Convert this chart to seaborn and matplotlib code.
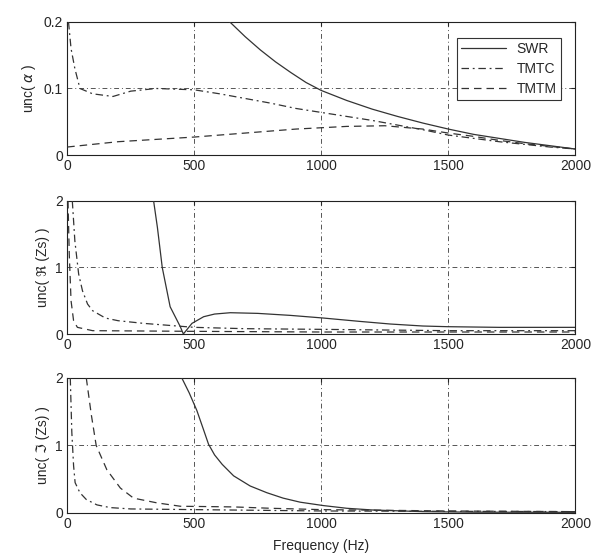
import numpy as np
import pandas as pd
import seaborn as sns
import matplotlib.pyplot as plt

sns.set_style('white')
plt.rcParams['font.family'] = ['Liberation Sans', 'DejaVu Sans']
plt.rcParams['font.size'] = 10
plt.rcParams['mathtext.fontset'] = 'dejavusans'

# ---- data ----
x_ticks = [0, 500, 1000, 1500, 2000]

# panel 1 : unc(alpha)
f_a_swr = [640, 700, 760, 820, 880, 940, 1000, 1100, 1200, 1300, 1400, 1500, 1600, 1700,
           1800, 1900, 2000]
u_a_swr = [0.200, 0.178, 0.158, 0.140, 0.124, 0.109, 0.097, 0.082, 0.069, 0.058, 0.048,
           0.039, 0.031, 0.025, 0.019, 0.014, 0.009]
f_a_tmtc = [5, 15, 30, 50, 100, 180, 250, 350, 500, 600, 700, 800, 900, 1000, 1100,
            1200, 1300, 1400, 1500, 1600, 1700, 1800, 1900, 2000]
u_a_tmtc = [0.2, 0.16, 0.13, 0.10, 0.092, 0.088, 0.096, 0.10, 0.098, 0.092, 0.085, 0.078,
            0.070, 0.064, 0.058, 0.052, 0.045, 0.038, 0.030, 0.025, 0.020, 0.016, 0.012, 0.009]
f_a_tmtm = [0, 200, 500, 700, 900, 1100, 1250, 1400, 1500, 1600, 1700, 1800, 1900, 2000]
u_a_tmtm = [0.012, 0.020, 0.027, 0.033, 0.039, 0.043, 0.044, 0.039, 0.033, 0.028, 0.022, 0.017, 0.013, 0.009]
a_ticks = [0, 0.1, 0.2]
a_ticklabels = ['0', '0.1', '0.2']

# panel 2 : unc(Re(Zs))
f_r_swr = [340, 355, 374, 405, 445, 457, 491, 537, 580, 642, 750, 878, 1008, 1150, 1272,
           1400, 1496, 1700, 2000]
u_r_swr = [2.0, 1.6, 1.0, 0.41, 0.11, 0.0, 0.16, 0.26, 0.30, 0.32, 0.31, 0.28, 0.24, 0.19,
           0.15, 0.12, 0.11, 0.10, 0.10]
f_r_tmtc = [20, 30, 45, 60, 80, 100, 150, 200, 300, 400, 500, 700, 1000, 1500, 2000]
u_r_tmtc = [2.0, 1.4, 0.9, 0.65, 0.45, 0.35, 0.24, 0.20, 0.16, 0.13, 0.10, 0.08, 0.07, 0.05, 0.05]
f_r_tmtm = [3, 8, 15, 25, 40, 100, 500, 1000, 2000]
u_r_tmtm = [2.0, 1.2, 0.5, 0.2, 0.1, 0.05, 0.04, 0.03, 0.03]
r_ticks = [0, 1, 2]

# panel 3 : unc(Im(Zs))
f_i_swr = [451, 480, 510, 535, 556, 580, 610, 655, 720, 786, 850, 917, 1008, 1100, 1200,
           1400, 1600, 2000]
u_i_swr = [2.0, 1.78, 1.52, 1.25, 1.02, 0.86, 0.72, 0.55, 0.40, 0.30, 0.22, 0.16, 0.11,
           0.07, 0.045, 0.02, 0.012, 0.01]
f_i_tmtc = [12, 18, 25, 31, 50, 75, 117, 169, 250, 500, 1000, 2000]
u_i_tmtc = [2.0, 1.2, 0.7, 0.45, 0.30, 0.20, 0.12, 0.08, 0.06, 0.05, 0.03, 0.02]
f_i_tmtm = [75, 95, 114, 156, 209, 261, 353, 445, 655, 800, 1000, 1500, 2000]
u_i_tmtm = [2.0, 1.45, 1.0, 0.64, 0.37, 0.22, 0.15, 0.10, 0.09, 0.07, 0.05, 0.03, 0.02]

series_names = ['SWR', 'TMTC', 'TMTM']
line_styles = {'SWR': '-', 'TMTC': (0, (6, 3, 1.5, 3)), 'TMTM': (0, (6, 4))}
line_col = '#333333'
grid_style = (0, (5, 3, 1, 3))

panels = [
    ([(f_a_swr, u_a_swr), (f_a_tmtc, u_a_tmtc), (f_a_tmtm, u_a_tmtm)],
     r'unc( $\alpha$ )', a_ticks, a_ticklabels, 0.2),
    ([(f_r_swr, u_r_swr), (f_r_tmtc, u_r_tmtc), (f_r_tmtm, u_r_tmtm)],
     'unc( \u211c (Zs) )', r_ticks, ['0', '1', '2'], 2),
    ([(f_i_swr, u_i_swr), (f_i_tmtc, u_i_tmtc), (f_i_tmtm, u_i_tmtm)],
     'unc( \u2111 (Zs) )', r_ticks, ['0', '1', '2'], 2),
]

fig = plt.figure(figsize=(5.95, 5.59), dpi=100)
boxes = [[0.113, 0.7227, 0.854, 0.238],
         [0.113, 0.4025, 0.854, 0.238],
         [0.113, 0.0823, 0.854, 0.2415]]

for k, (curves, ylab, yt, ytl, ymax) in enumerate(panels):
    ax = fig.add_axes(boxes[k])
    for name, (fx, uy) in zip(series_names, curves):
        df = pd.DataFrame({'f': fx, 'u': uy})
        sns.lineplot(data=df, x='f', y='u', ax=ax, color=line_col, linewidth=0.9,
                     linestyle=line_styles[name], label=name, legend=False, zorder=5)
    ax.set_xlim(0, 2000)
    ax.set_ylim(0, ymax)
    ax.set_xticks(x_ticks, labels=[str(t) for t in x_ticks])
    ax.set_yticks(yt, labels=ytl)
    ax.grid(True, color='#555555', linestyle=grid_style, linewidth=0.7)
    ax.tick_params(direction='in', length=3, top=True, right=True, labelsize=10, pad=3)
    for s in ax.spines.values():
        s.set_color('#222222')
        s.set_linewidth(0.8)
    ax.set_ylabel(ylab, fontsize=10, labelpad=4)
    ax.set_xlabel('')
    if k == 0:
        leg = ax.legend(loc='upper right', bbox_to_anchor=(0.985, 0.935), fancybox=False,
                        edgecolor='#333333', framealpha=1, handlelength=3.2,
                        labelspacing=0.45, borderpad=0.3, fontsize=10)
        leg.get_frame().set_linewidth(0.8)
    if k == 2:
        ax.set_xlabel('Frequency (Hz)', fontsize=10, labelpad=6)

fig.savefig('out.png', dpi=100)
